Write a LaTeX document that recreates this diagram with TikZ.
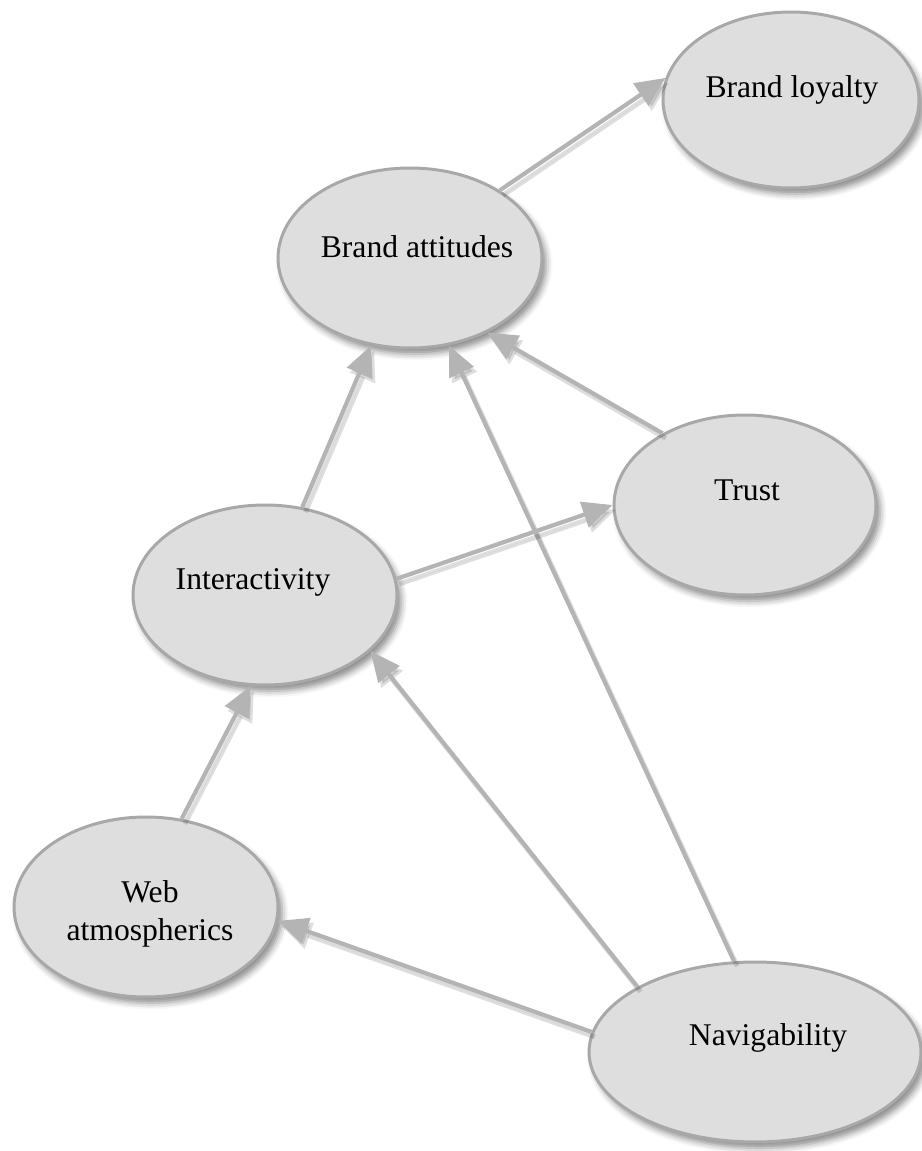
\documentclass[tikz,border=0pt]{standalone}
\usepackage{fontspec}
\setmainfont{Liberation Serif}
\usetikzlibrary{arrows.meta,shapes.geometric,shadows.blur}
\definecolor{bubblefill}{RGB}{222,222,222}
\definecolor{bubbleedge}{RGB}{168,168,168}
\definecolor{linkgray}{RGB}{180,180,180}
\tikzset{
  bubble/.style={ellipse, draw=bubbleedge, line width=1.7pt, fill=bubblefill,
    inner sep=0pt,
    blur shadow={shadow xshift=2.5pt, shadow yshift=-3.5pt,
      shadow blur radius=3.5pt, shadow opacity=45}},
  caption/.style={font=\fontsize{18}{21.6}\selectfont, align=center, inner sep=0pt},
  link/.style={draw=linkgray, line width=2.4pt,
    -{Triangle[length=17pt,width=15pt]},
    preaction={draw=black, fill=black, opacity=0.13, line width=2.8pt,
      transform canvas={shift={(1.8pt,-2.8pt)}}}},
}
\begin{document}
\begin{tikzpicture}[x=0.02cm, y=-0.02cm]
  \useasboundingbox (0,0) rectangle (921,1151);

  % constructs
  \node[bubble, minimum width=5.12cm, minimum height=3.52cm] (bl) at (791,100) {};
  \node[bubble, minimum width=5.28cm, minimum height=3.6cm]  (ba) at (410,258) {};
  \node[bubble, minimum width=5.24cm, minimum height=3.6cm]  (tr) at (745,505) {};
  \node[bubble, minimum width=5.28cm, minimum height=3.6cm]  (in) at (265,595) {};
  \node[bubble, minimum width=5.28cm, minimum height=3.6cm]  (wa) at (146,907) {};
  \node[bubble, minimum width=6.64cm, minimum height=3.6cm]  (na) at (755,1052) {};

  % captions
  \node[caption] (bl-t) at (792,90)   {Brand loyalty};
  \node[caption] (ba-t) at (417,247)  {Brand attitudes};
  \node[caption] (tr-t) at (747,490)  {Trust};
  \node[caption] (in-t) at (253,582)  {Interactivity};
  \node[caption] (wa-t) at (150,914)  {Web\\atmospherics};
  \node[caption] (na-t) at (768,1038) {Navigability};

  % paths
  \draw[link] (ba.37)    -- (bl.170);
  \draw[link] (in.67.6)  -- (ba.246.9);
  \draw[link] (na.103.7) -- (ba.294.8);
  \draw[link] (tr.139)   -- (ba.316);
  \draw[link] (in.7.3)   -- (tr.180.9);
  \draw[link] (wa.68.2)  -- (in.261.5);
  \draw[link] (na.151.2) -- (in.332.2);
  \draw[link] (na.173.5) -- (wa.354.5);
\end{tikzpicture}
\end{document}
